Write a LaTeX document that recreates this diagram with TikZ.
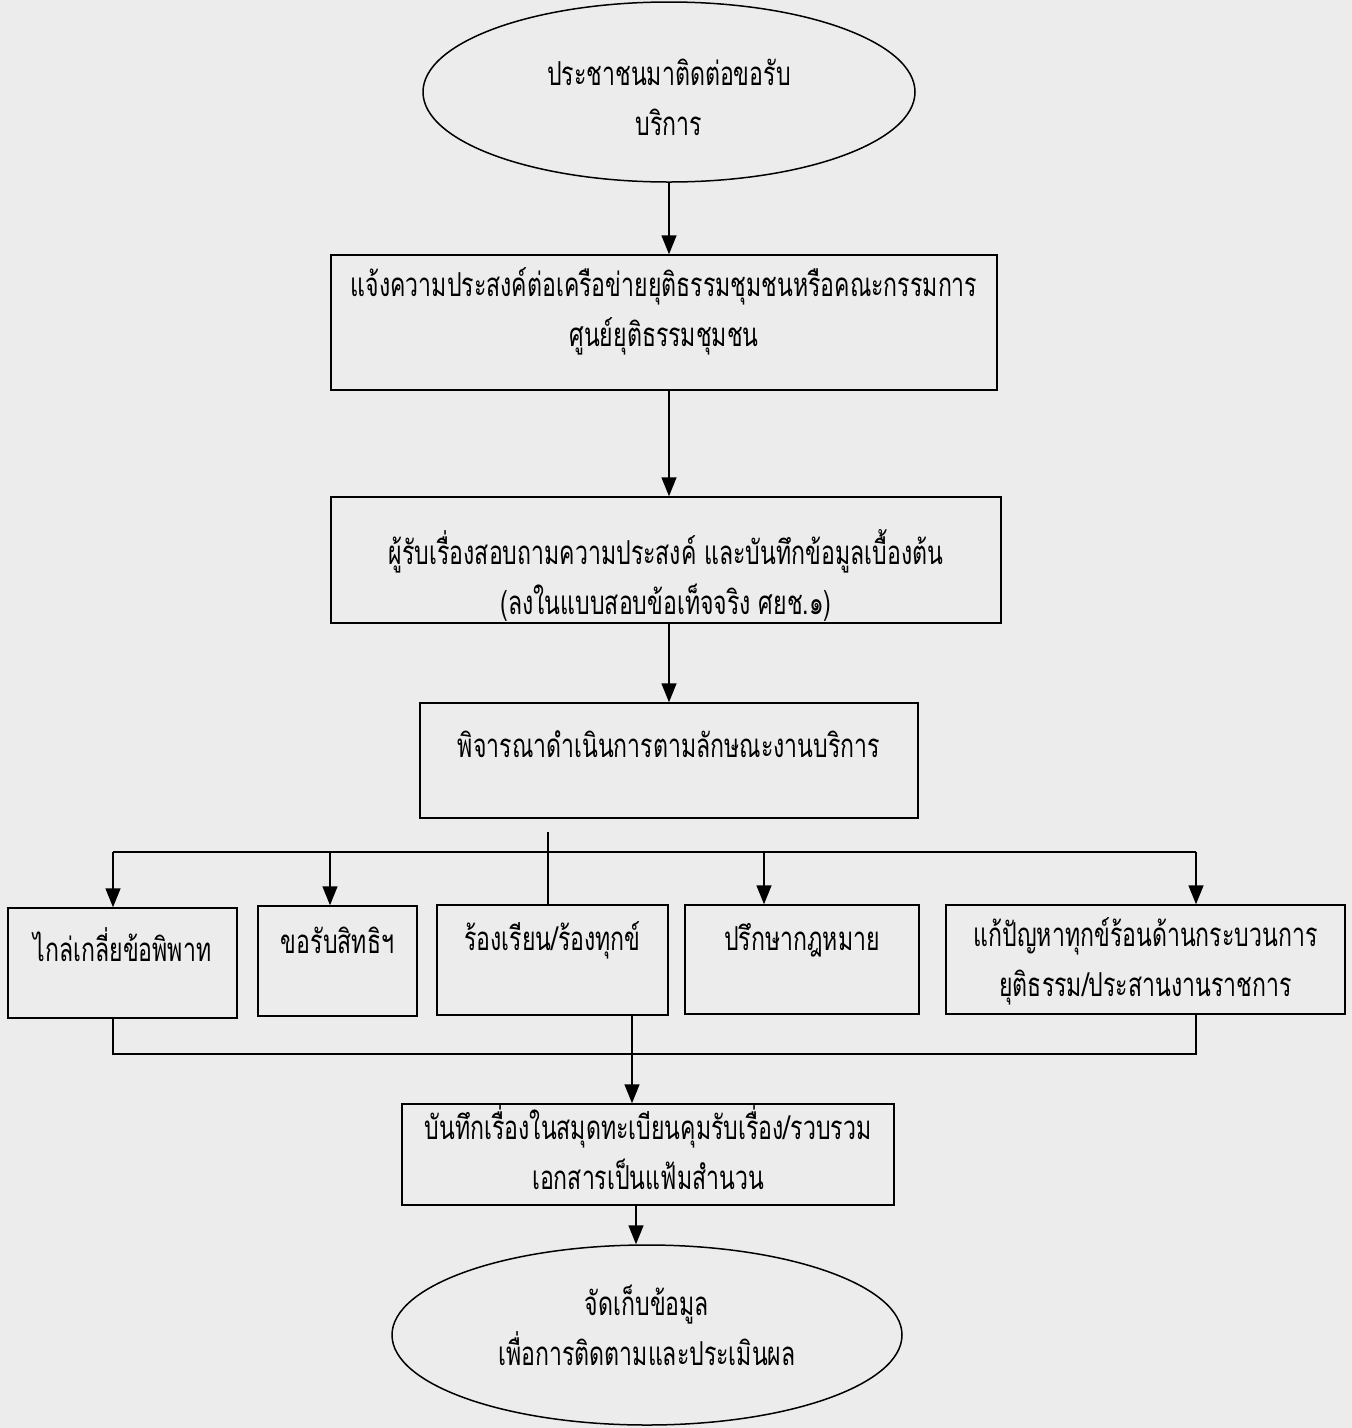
\documentclass[tikz,border=0pt]{standalone}
\usepackage{fontspec}
\newfontfamily\thai[Script=Thai,FakeStretch=0.70]{Loma}
\usetikzlibrary{shapes.geometric,arrows.meta}
\definecolor{paper}{RGB}{236,236,236}
\begin{document}
\begin{tikzpicture}[x=1pt,y=-1pt,line width=1.5pt,
  box/.style={draw,rectangle,inner sep=0pt,line width=1.5pt},
  oval/.style={draw,ellipse,inner sep=0pt,line width=1.5pt},
  txt/.style={align=center,inner sep=0pt,font=\thai\fontsize{33}{50}\selectfont},
  arr/.style={-{Triangle[length=19pt,width=15pt]}}]
\fill[paper] (0,0) rectangle (1352,1428);
\useasboundingbox (0,0) rectangle (1352,1428);
% shapes
\node[oval,minimum width=492pt,minimum height=180pt] (e1) at (669,92) {};
\node[txt] (t1) at (669,97) {ประชาชนมาติดต่อขอรับ\\บริการ};
\node[box,minimum width=666pt,minimum height=135pt] (b1) at (664,322.5) {};
\node[txt] (t2) at (664,311) {แจ้งความประสงค์ต่อเครือข่ายยุติธรรมชุมชนหรือคณะกรรมการ\\ศูนย์ยุติธรรมชุมชน};
\node[box,minimum width=670pt,minimum height=126pt] (b2) at (666,560) {};
\node[txt] (t3) at (666,575) {ผู้รับเรื่องสอบถามความประสงค์ และบันทึกข้อมูลเบื้องต้น\\(ลงในแบบสอบข้อเท็จจริง ศยช.๑)};
\node[box,minimum width=498pt,minimum height=115pt] (b3) at (669,760.5) {};
\node[txt] (t4) at (669,744) {พิจารณาดำเนินการตามลักษณะงานบริการ};
\node[box,minimum width=229pt,minimum height=110pt] (ra) at (122.5,963) {};
\node[txt] (ta) at (122.5,945) {ไกล่เกลี่ยข้อพิพาท};
\node[box,minimum width=159pt,minimum height=110pt] (rb) at (337.5,961) {};
\node[txt] (tb) at (337.5,940) {ขอรับสิทธิฯ};
\node[box,minimum width=231pt,minimum height=110pt] (rc) at (552.5,960) {};
\node[txt] (tc) at (552.5,940) {ร้องเรียน/ร้องทุกข์};
\node[box,minimum width=234pt,minimum height=109pt] (rd) at (802,959.5) {};
\node[txt] (td) at (802,940) {ปรึกษากฎหมาย};
\node[box,minimum width=399pt,minimum height=109pt] (re) at (1145.5,959.5) {};
\node[txt] (te) at (1145.5,961) {แก้ปัญหาทุกข์ร้อนด้านกระบวนการ\\ยุติธรรม/ประสานงานราชการ};
\node[box,minimum width=492pt,minimum height=101pt] (bf) at (648,1154.5) {};
\node[txt] (tf) at (648,1148) {บันทึกเรื่องในสมุดทะเบียนคุมรับเรื่อง/รวบรวม\\เอกสารเป็นแฟ้มสำนวน};
\node[oval,minimum width=510pt,minimum height=180pt] (e2) at (647,1335) {};
\node[txt] (t5) at (647,1325) {จัดเก็บข้อมูล\\เพื่อการติดตามและประเมินผล};
% connectors
\coordinate (s) at (548,832);
\coordinate (hl) at (113,852);
\coordinate (hb) at (330,852);
\coordinate (hd) at (764,852);
\coordinate (hr) at (1196,852);
\coordinate (cl) at (113,1054);
\coordinate (cr) at (1196,1054);
\coordinate (xc) at (632,0);
\coordinate (xf) at (636,0);
\draw[arr] (e1.south) -- (e1.south |- b1.north);
\draw[arr] (e1.south |- b1.south) -- (e1.south |- b2.north);
\draw[arr] (e1.south |- b2.south) -- (e1.south |- b3.north);
\draw (s) -- (s |- rc.north);
\draw (hl) -- (hr);
\draw[arr] (hl) -- (hl |- ra.north);
\draw[arr] (hb) -- (hb |- rb.north);
\draw[arr] (hd) -- (hd |- rd.north);
\draw[arr] (hr) -- (hr |- re.north);
\draw (hl |- ra.south) -- (cl) -- (cr) -- (hr |- re.south);
\draw[arr] (xc |- rc.south) -- (xc |- bf.north);
\draw[arr] (xf |- bf.south) -- (xf |- e2.north);
\end{tikzpicture}
\end{document}
